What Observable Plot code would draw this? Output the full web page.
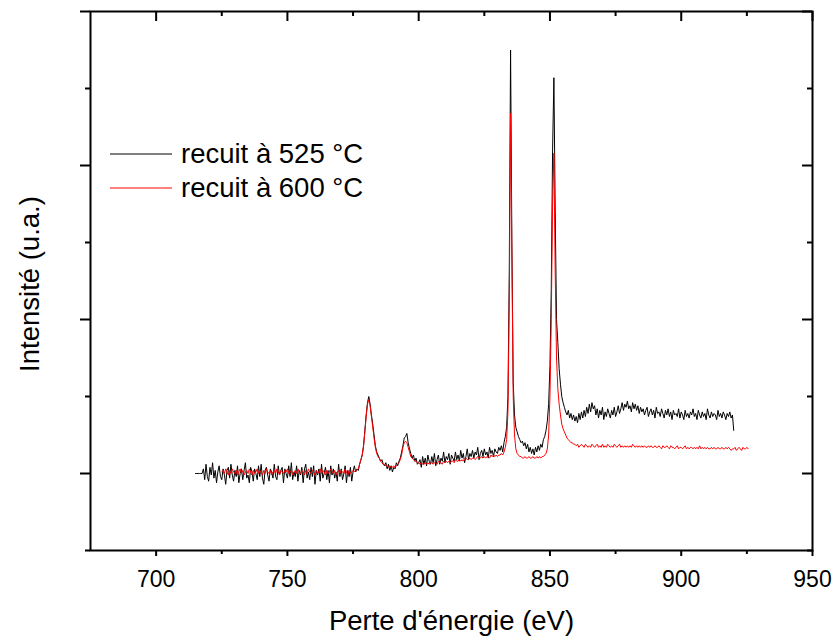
<!DOCTYPE html>
<html><head><meta charset="utf-8">
<script src="https://cdn.jsdelivr.net/npm/d3@7"></script>
<script src="https://cdn.jsdelivr.net/npm/@observablehq/plot@0.6"></script>
<style>
body{margin:0;background:#fff;}
#chart{position:relative;width:835px;height:639px;font-family:"Liberation Sans",Arial,sans-serif;}
#legend{position:absolute;left:0;top:0;pointer-events:none;}
</style></head><body><div id="chart"></div>
<script>
// Energy loss (eV) sampled every 0.5 eV; each row = [start energy, 10 intensities (×0.01 a.u.)]
const step = 0.5;
const blackRows = [
  [715, 0,0,0,0,0,0,3,-4,6,-2],
  [720, -5,4,-1,7,-3,2,-6,1,5,-2],
  [725, -4,3,-1,-7,2,4,-3,6,-1,-5],
  [730, 2,-2,5,-6,0,3,-4,2,7,-3],
  [735, -1,-6,4,1,-5,3,0,-4,5,-2],
  [740, 6,-3,-7,2,4,-1,-5,3,1,-3],
  [745, 6,-2,-4,5,-1,2,4,-6,3,0],
  [750, -3,5,-2,7,-4,1,-2,5,-5,2],
  [755, -1,4,-6,3,6,-3,1,-4,4,-2],
  [760, 5,-7,2,-1,3,-5,6,-3,0,4],
  [765, -4,2,-6,5,-1,3,-3,1,-5,6],
  [770, -2,3,-4,0,5,-6,2,-2,4,-5],
  [775, 1,5,1,3,2,6,9,12,18,28],
  [780, 38,46,50,45,38,32,25,18,14,12],
  [785, 10,8,9,6,5,7,3,6,2,5],
  [790, 1,4,3,7,5,8,10,14,18,23],
  [795, 24,26,20,16,13,10,12,8,10,6],
  [800, 7,9,4,11,6,10,5,12,8,6],
  [805, 11,7,13,5,9,12,6,10,8,14],
  [810, 7,11,9,13,6,12,10,8,14,9],
  [815, 12,8,15,10,13,7,11,16,9,13],
  [820, 11,15,10,14,12,17,9,13,15,11],
  [825, 16,12,14,10,17,13,15,11,16,14],
  [830, 13,17,15,18,14,20,24,30,50,130],
  [835, 275,150,60,38,30,27,24,22,20,21],
  [840, 18,20,16,19,14,17,13,16,12,17],
  [845, 14,18,15,19,17,22,24,28,34,45],
  [850, 70,120,210,257,170,100,85,68,58,50],
  [855, 46,43,40,38,41,36,39,35,38,34],
  [860, 37,33,39,35,40,36,41,37,43,39],
  [865, 45,40,46,42,44,38,42,36,41,38],
  [870, 43,35,40,37,42,39,36,41,38,43],
  [875, 37,40,44,39,42,46,41,45,43,47],
  [880, 42,44,40,46,42,45,41,44,39,43],
  [885, 40,42,38,41,43,37,40,42,38,41],
  [890, 36,43,39,40,37,42,39,36,41,38],
  [895, 42,37,40,35,41,38,39,37,42,36],
  [900, 40,38,35,41,37,39,36,40,38,42],
  [905, 37,39,35,41,38,36,40,37,39,35],
  [910, 42,38,36,40,37,39,38,35,41,37],
  [915, 39,36,40,38,35,39,37,40,36,38],
  [920, 28]
];
const redRows = [
  [725, 1,2,0,3,1,-1,2,0,3,1],
  [730, 0,2,-1,1,3,0,2,-1,1,2],
  [735, 0,3,1,-1,2,0,1,3,0,2],
  [740, 1,-1,2,0,3,1,0,2,-1,1],
  [745, 2,0,3,1,-1,2,1,0,2,1],
  [750, 3,0,1,2,-1,1,2,0,3,1],
  [755, 0,2,1,-1,2,0,3,1,0,2],
  [760, 1,-1,2,0,1,3,0,2,1,-1],
  [765, 2,0,1,3,1,0,2,-1,1,2],
  [770, 0,2,1,0,3,1,-1,2,0,1],
  [775, 2,1,2,2,3,6,9,12,18,27],
  [780, 37,45,48,44,37,30,23,17,13,11],
  [785, 10,8,7,6,6,5,5,4,5,4],
  [790, 4,5,4,5,6,7,9,12,17,20],
  [795, 21,20,17,14,11,10,9,8,8,7],
  [800, 7,6,7,6,6,7,6,7,6,7],
  [805, 7,6,7,7,6,8,7,7,6,8],
  [810, 7,8,7,8,7,8,8,7,9,8],
  [815, 8,9,8,9,8,9,10,9,9,10],
  [820, 9,10,10,9,10,11,10,10,11,10],
  [825, 11,10,11,11,10,12,11,12,11,12],
  [830, 11,12,12,13,12,14,17,22,40,110],
  [835, 234,140,50,25,16,13,12,11,11,10],
  [840, 10,11,10,10,11,10,10,11,10,10],
  [845, 11,10,11,10,11,11,12,13,16,25],
  [850, 50,100,175,208,130,75,55,45,38,32],
  [855, 29,27,25,23,22,21,20,20,19,19],
  [860, 18,19,17,18,19,18,17,19,18,17],
  [865, 18,17,19,18,17,18,19,17,18,17],
  [870, 19,17,18,17,19,18,17,18,17,19],
  [875, 18,17,18,19,17,18,17,18,17,18],
  [880, 17,18,17,19,18,17,18,17,18,17],
  [885, 18,17,18,17,17,18,17,18,17,17],
  [890, 18,17,17,18,17,16,18,17,17,18],
  [895, 17,16,18,17,17,16,17,18,16,17],
  [900, 17,16,17,18,16,17,16,17,17,16],
  [905, 17,16,17,16,18,16,17,16,17,16],
  [910, 17,16,16,17,16,17,16,16,17,16],
  [915, 16,17,16,16,17,16,17,16,15,16],
  [920, 16,17,15,16,17,16,15,17,16,16],
  [925, 17,16]
];
const seriesNames = ["recuit à 525 °C", "recuit à 600 °C"];
const seriesColors = ["#000000", "#ff0000"];
const xMajor = [700, 750, 800, 850, 900, 950];
const xMinor = [725, 775, 825, 875, 925];
const yMajor = [0, 100, 200, 300];
const yMinor = [-50, 50, 150, 250];
const xTitle = "Perte d'énergie (eV)";
const yTitle = "Intensité (u.a.)";

function expand(rows, name) {
  return rows.flatMap(([start, ...vals]) => vals.map((v, i) => ({energy: start + i * step, intensity: v, series: name})));
}
const black = expand(blackRows, seriesNames[0]);
const red = expand(redRows, seriesNames[1]);

const W = 835, H = 639, mL = 90, mR = 23, mT = 11, mB = 89;
const innerW = W - mL - mR, innerH = H - mT - mB;
const titleSize = 27.5;

const chart = Plot.plot({
  width: W, height: H,
  marginLeft: mL, marginRight: mR, marginTop: mT, marginBottom: mB,
  style: {fontFamily: '"Liberation Sans", Arial, sans-serif', color: "#000", background: "#fff"},
  x: {domain: [675, 950], label: null},
  y: {domain: [-50, 300], label: null},
  marks: [
    Plot.line(black, {x: "energy", y: "intensity", stroke: seriesColors[0], strokeWidth: 1}),
    Plot.line(red, {x: "energy", y: "intensity", stroke: seriesColors[1], strokeWidth: 1}),
    Plot.frame({stroke: "#000", strokeWidth: 2}),
    Plot.axisX(xMajor, {anchor: "bottom", tickSize: 6, tickPadding: 14, fontSize: 23, strokeWidth: 2, label: null, tickFormat: d => String(d)}),
    Plot.axisX(xMinor, {anchor: "bottom", tickSize: 4, strokeWidth: 2, label: null, tickFormat: () => ""}),
    Plot.axisY(yMajor, {anchor: "left", tickSize: 10, strokeWidth: 2, label: null, tickFormat: () => ""}),
    Plot.axisY(yMinor, {anchor: "left", tickSize: 5, strokeWidth: 2, label: null, tickFormat: () => ""}),
    Plot.ruleX(xMajor, {x: d => d, insetBottom: innerH - 10, stroke: "#000", strokeWidth: 2}),
    Plot.ruleX(xMinor, {x: d => d, insetBottom: innerH - 5, stroke: "#000", strokeWidth: 2}),
    Plot.ruleY(yMajor, {y: d => d, insetLeft: innerW - 10, stroke: "#000", strokeWidth: 2}),
    Plot.ruleY(yMinor, {y: d => d, insetLeft: innerW - 5, stroke: "#000", strokeWidth: 2}),
    Plot.text([xTitle], {text: d => d, frameAnchor: "bottom", textAnchor: "middle", lineAnchor: "middle", dy: 71, fontSize: titleSize, fill: "#000"}),
    Plot.text([yTitle], {text: d => d, frameAnchor: "left", textAnchor: "middle", lineAnchor: "middle", rotate: -90, dx: -60, dy: 3, fontSize: titleSize, fill: "#000"})
  ]
});
const host = document.getElementById("chart");
host.appendChild(chart);

// Legend overlay
const ns = "http://www.w3.org/2000/svg";
const leg = document.createElementNS(ns, "svg");
leg.setAttribute("id", "legend");
leg.setAttribute("width", W);
leg.setAttribute("height", H);
seriesNames.forEach((name, i) => {
  const yLine = 154 + i * 34;
  const ln = document.createElementNS(ns, "line");
  ln.setAttribute("x1", 110); ln.setAttribute("x2", 172);
  ln.setAttribute("y1", yLine); ln.setAttribute("y2", yLine);
  ln.setAttribute("stroke", seriesColors[i]); ln.setAttribute("stroke-width", 1);
  leg.appendChild(ln);
  const tx = document.createElementNS(ns, "text");
  tx.setAttribute("x", 181); tx.setAttribute("y", yLine + 9);
  tx.setAttribute("font-size", titleSize);
  tx.setAttribute("font-family", '"Liberation Sans", Arial, sans-serif');
  tx.setAttribute("fill", "#000");
  tx.textContent = name;
  leg.appendChild(tx);
});
host.appendChild(leg);
</script>
</body></html>
